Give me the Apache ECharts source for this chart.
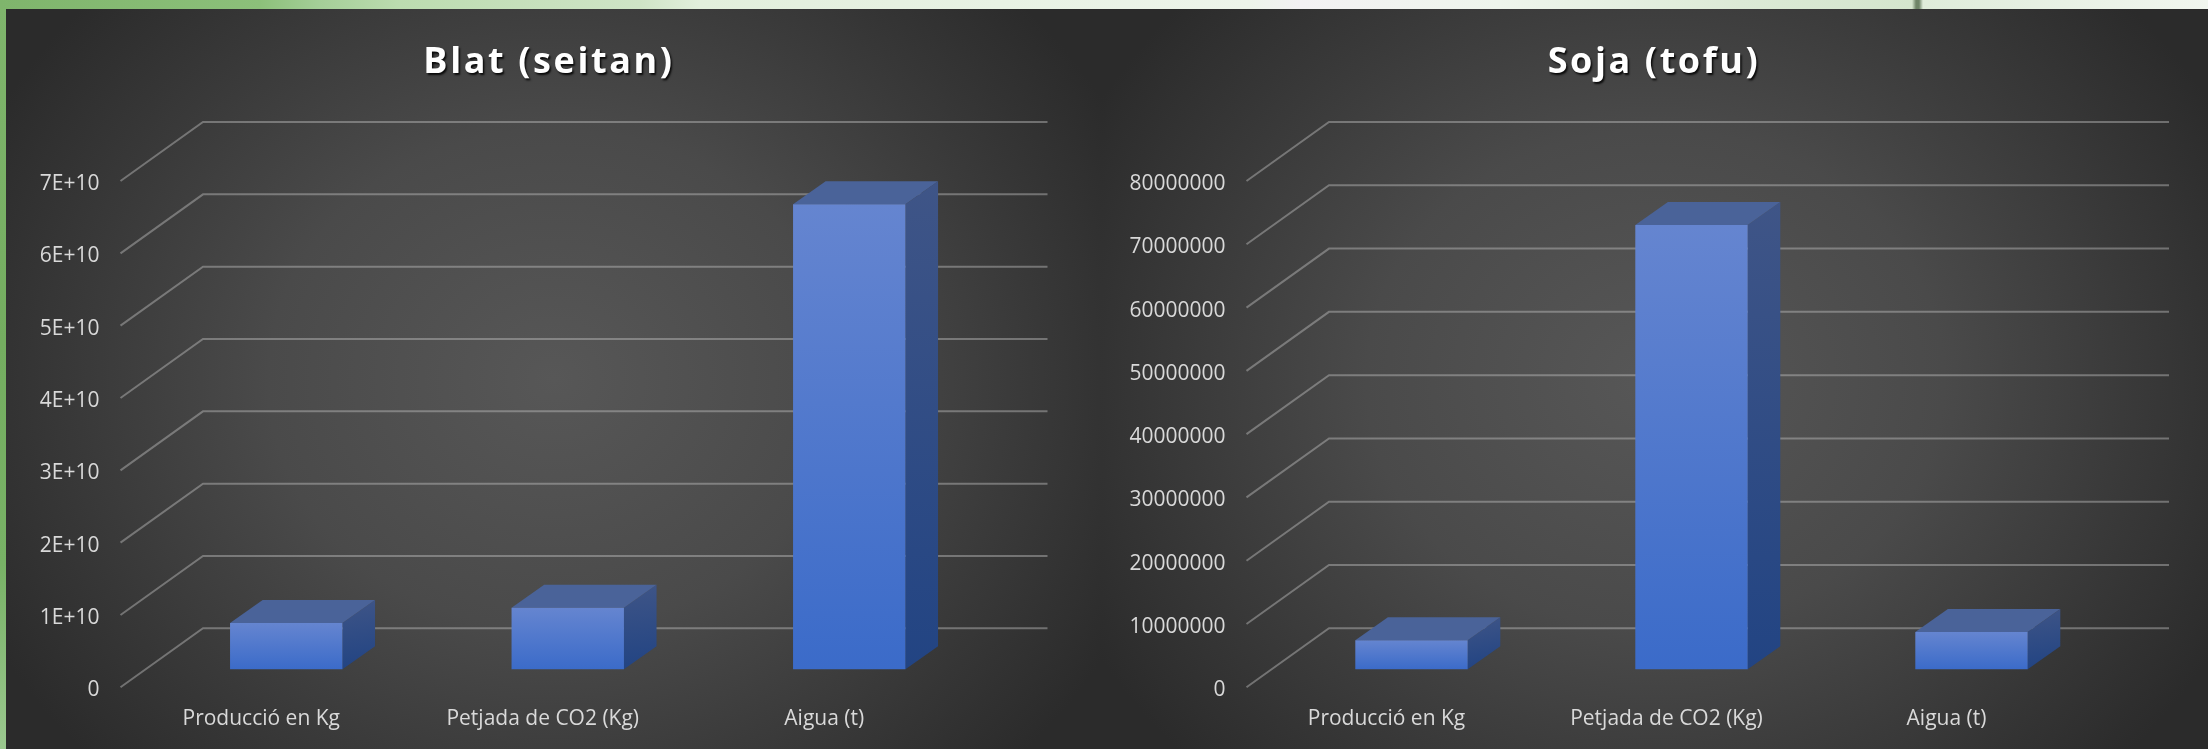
<!DOCTYPE html>
<html><head><meta charset="utf-8">
<style>
html,body{margin:0;padding:0;width:2208px;height:749px;overflow:hidden;background:#2b2b2b}
#strip{position:absolute;left:0;top:0;width:2208px;height:749px;
background:linear-gradient(90deg,#7fb56c 0,#8cc07a 260px,#a5cf98 320px,#bcdcb0 400px,#cfe4c6 640px,#e2efdc 700px,#e8f2e4 1000px,#edf4ea 1250px,#f3f1f3 1300px,#eef5ec 1500px,#dcead6 1740px,#d4e5cd 1912px,#6f8568 1916px,#6f8568 1919px,#dfecda 1923px,#f1f6ef 2208px);}
#left{position:absolute;left:0;top:9px;width:6px;height:740px;background:linear-gradient(180deg,#7fb56c,#74ad60 45%,#78b266 75%,#9bc88f 100%)}
#p1{position:absolute;left:6px;top:9px;width:1096px;height:740px;background:radial-gradient(ellipse 58% 75% at 50% 50%,#575757 0,#4a4a4a 45%,#393939 75%,#2b2b2b 100%)}
#p2{position:absolute;left:1102px;top:9px;width:1106px;height:740px;background:radial-gradient(ellipse 58% 75% at 50% 50%,#575757 0,#4a4a4a 45%,#393939 75%,#2b2b2b 100%)}
#c{position:absolute;left:0;top:0;width:2208px;height:749px}
</style>
<script src="https://cdn.jsdelivr.net/npm/echarts@6/dist/echarts.min.js"></script>
</head><body>
<div id="strip"></div><div id="left"></div><div id="p1"></div><div id="p2"></div><div id="c"></div>
<script>
const categories = ['Producció en Kg', 'Petjada de CO2 (Kg)', 'Aigua (t)'];
const blatValues = [6.4e9, 8.5e9, 6.43e10];
const sojaValues = [4.6e6, 7.02e7, 5.9e6];
const blatTicks = [0, 1e10, 2e10, 3e10, 4e10, 5e10, 6e10, 7e10];
const sojaTicks = [0, 1e7, 2e7, 3e7, 4e7, 5e7, 6e7, 7e7, 8e7];
const blatTickLabels = ['0', '1E+10', '2E+10', '3E+10', '4E+10', '5E+10', '6E+10', '7E+10'];
const sojaTickLabels = ['0', '10000000', '20000000', '30000000', '40000000', '50000000', '60000000', '70000000', '80000000'];
const titles = ['Blat (seitan)', 'Soja (tofu)'];

// the titles are letter-spaced in the reference
const fillTextBase = CanvasRenderingContext2D.prototype.fillText;
CanvasRenderingContext2D.prototype.fillText = function (t, x, y, m) {
  this.letterSpacing = titles.includes(t) ? '2.6px' : '0px';
  return m === undefined ? fillTextBase.call(this, t, x, y) : fillTextBase.call(this, t, x, y, m);
};

const FONT = '"Open Sans", sans-serif';
const floor = {dx: 82.5, dy: -59};     // full depth of the floor
const barShift = {dx: 25, dy: -18};    // where a bar's front face sits in the depth
const barDepth = {dx: 32.6, dy: -23};
const barWidth = 112.4;

function grad(x, y, x2, y2, a, b) {
  return {type: 'linear', x, y, x2, y2, colorStops: [{offset: 0, color: a}, {offset: 1, color: b}]};
}
function gridItem(params, api) {
  const cs = params.coordSys;
  const y = api.coord([0, api.value(1)])[1];
  return {type: 'polyline',
    shape: {points: [[cs.x, y], [cs.x + floor.dx, y + floor.dy], [cs.x + cs.width + floor.dx, y + floor.dy]]},
    style: {fill: null, stroke: 'rgba(200,200,200,0.42)', lineWidth: 2}};
}
function barItem(params, api) {
  const base = api.coord([api.value(0), 0]);
  const top = api.coord([api.value(0), api.value(1)]);
  const x0 = base[0] + barShift.dx - barWidth / 2, x1 = x0 + barWidth;
  const yb = base[1] + barShift.dy, yt = top[1] + barShift.dy;
  const d = barDepth;
  return {type: 'group', children: [
    {type: 'polygon', shape: {points: [[x1, yt], [x1 + d.dx, yt + d.dy], [x1 + d.dx, yb + d.dy], [x1, yb]]},
      style: {fill: grad(0, 0, 0.3, 1, '#3f5587', '#224483')}},
    {type: 'polygon', shape: {points: [[x0, yt], [x0 + d.dx, yt + d.dy], [x1 + d.dx, yt + d.dy], [x1, yt]]},
      style: {fill: '#4a6399'}},
    {type: 'rect', shape: {x: x0, y: yt, width: barWidth, height: yb - yt},
      style: {fill: grad(0, 0, 0, 1, '#6585d0', '#3b6bc9')}}
  ]};
}
function xAxis(gridIndex) {
  return {type: 'category', gridIndex, data: categories, axisLine: {show: false}, axisTick: {show: false}, splitLine: {show: false},
    axisLabel: {color: '#d9d9d9', fontFamily: FONT, fontSize: 21, margin: 21, interval: 0}};
}
function yAxis(gridIndex, max, interval, labels) {
  return {type: 'value', gridIndex, min: 0, max, interval, axisLine: {show: false}, axisTick: {show: false}, splitLine: {show: false},
    axisLabel: {color: '#d9d9d9', fontFamily: FONT, fontSize: 21, margin: 21, verticalAlign: 'top', lineHeight: 6,
      formatter: (v, i) => labels[Math.round(v / interval)]}};
}
function title(text, left) {
  return {text, left, top: 40, textAlign: 'center',
    textStyle: {color: '#fff', fontFamily: FONT, fontWeight: 'bold', fontSize: 36,
      textShadowColor: 'rgba(0,0,0,0.85)', textShadowBlur: 2, textShadowOffsetX: 1.5, textShadowOffsetY: 2}};
}
function series(i, ticks, values) {
  return [
    {type: 'custom', xAxisIndex: i, yAxisIndex: i, clip: false, silent: true, z: 1, renderItem: gridItem,
      data: ticks.map(t => [0, t]), encode: {x: 0, y: 1}},
    {type: 'custom', xAxisIndex: i, yAxisIndex: i, clip: false, silent: true, z: 2, renderItem: barItem,
      data: values.map((v, c) => [c, v]), encode: {x: 0, y: 1}}
  ];
}
const chart = echarts.init(document.getElementById('c'), null, {renderer: 'canvas', width: 2208, height: 749});
chart.setOption({
  animation: false,
  backgroundColor: 'transparent',
  title: [title(titles[0], 544), title(titles[1], 1649)],
  grid: [
    {left: 120.5, top: 181, width: 844.5, height: 506.3},
    {left: 1246.5, top: 181, width: 840, height: 506.3}
  ],
  xAxis: [xAxis(0), xAxis(1)],
  yAxis: [yAxis(0, 7e10, 1e10, blatTickLabels), yAxis(1, 8e7, 1e7, sojaTickLabels)],
  series: [...series(0, blatTicks, blatValues), ...series(1, sojaTicks, sojaValues)]
});
</script></body></html>
